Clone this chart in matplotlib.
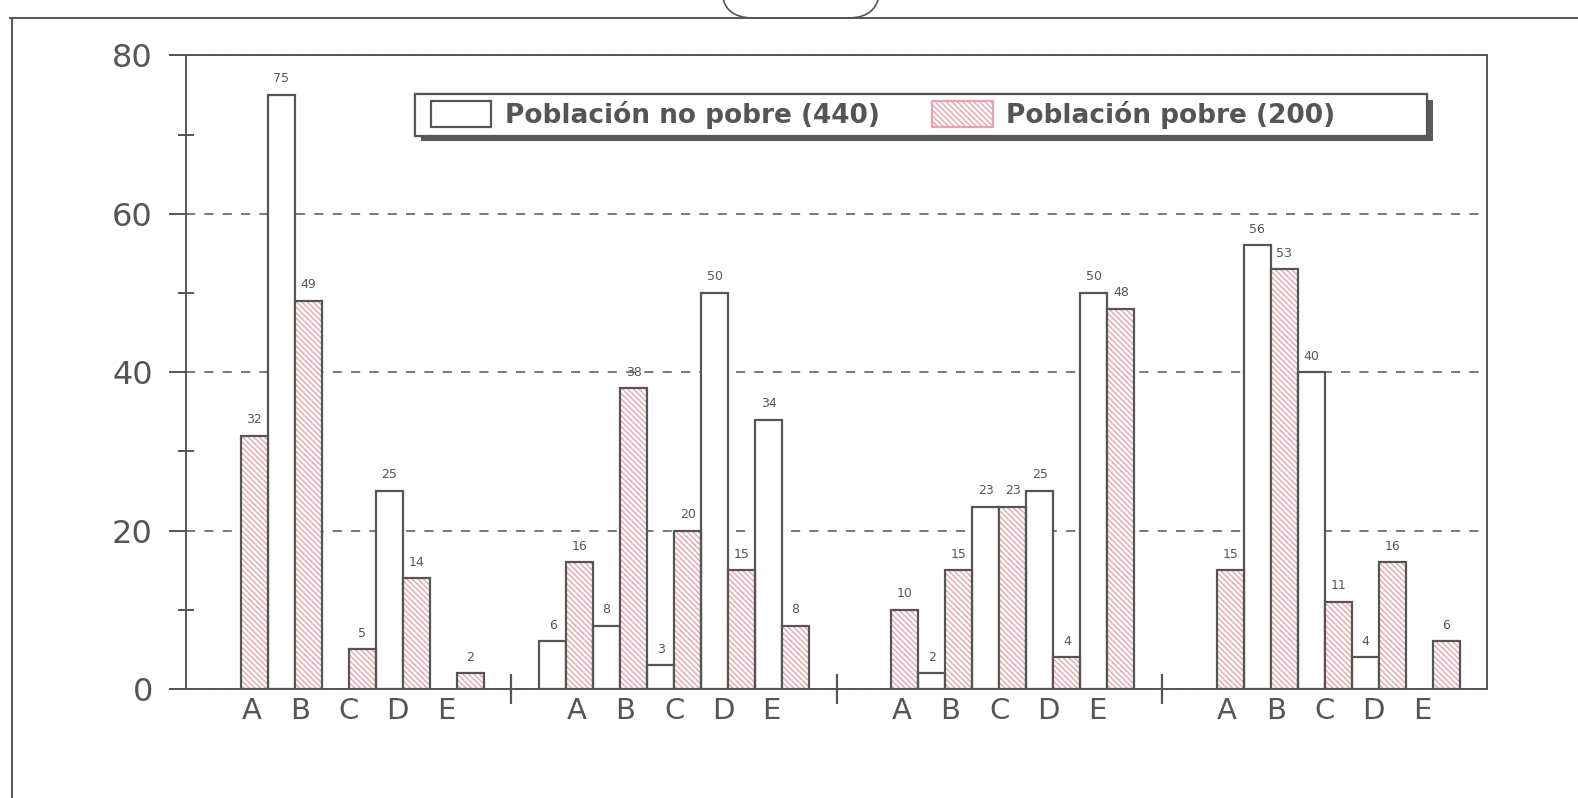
import numpy as np
import matplotlib
matplotlib.use('Agg')
import matplotlib.pyplot as plt
import matplotlib.patheffects as pe
from matplotlib.lines import Line2D
from matplotlib.patches import FancyBboxPatch, Patch, Rectangle

# datos
categorias = ['A', 'B', 'C', 'D', 'E']
n_grupos = 4
no_pobre = [
    [0, 75, 0, 25, 0],
    [6, 8, 3, 50, 34],
    [0, 2, 23, 25, 50],
    [0, 56, 40, 4, 0],
]
pobre = [
    [32, 49, 5, 14, 2],
    [16, 38, 20, 15, 8],
    [10, 15, 23, 4, 48],
    [15, 53, 11, 16, 6],
]
etiqueta_no_pobre = 'Población no pobre (440)'
etiqueta_pobre = 'Población pobre (200)'
y_ticks = [0, 20, 40, 60, 80]

gris = '#555555'
rosa = '#e9a3ad'
rayado = '\\\\\\\\\\\\'

plt.rcParams['hatch.linewidth'] = 1.0

fig = plt.figure(figsize=(15.78, 7.98), dpi=100)
ax = fig.add_axes([0.118, 0.1366, 0.8245, 0.794])

w = 0.083  # ancho de barra (unidades de grupo)
paso_etiqueta = 0.15

pos_letras = []
for g in range(n_grupos):
    centro = g + 0.5
    for k in range(5):
        x_blanca = centro + (2 * k - 4.5) * w
        x_rosa = centro + (2 * k + 1 - 4.5) * w
        vb = no_pobre[g][k]
        vr = pobre[g][k]
        if vb > 0:
            ax.bar(x_blanca, vb, width=w, color='white', edgecolor=gris,
                   linewidth=1.6, zorder=3)
            ax.text(x_blanca, vb + 1.2, str(vb), ha='center', va='bottom',
                    fontsize=9, color=gris, zorder=5)
        if vr > 0:
            # relleno rayado rosa y luego el contorno gris
            ax.bar(x_rosa, vr, width=w, color='white', edgecolor=rosa,
                   hatch=rayado, linewidth=0, zorder=3)
            ax.bar(x_rosa, vr, width=w, fill=False, edgecolor=gris,
                   linewidth=1.6, zorder=4)
            ax.text(x_rosa, vr + 1.2, str(vr), ha='center', va='bottom',
                    fontsize=9, color=gris, zorder=5)
        pos_letras.append(centro + (k - 2) * paso_etiqueta)

ax.set_xlim(0, n_grupos)
ax.set_ylim(0, 80)

# eje x: separadores de grupo y letras
ax.set_xticks([1, 2, 3])
ax.set_xticklabels([])
ax.tick_params(axis='x', which='major', direction='inout', length=22,
               width=1.6, color=gris)
ax.set_xticks(pos_letras, minor=True)
ax.set_xticklabels(categorias * n_grupos, minor=True)
ax.tick_params(axis='x', which='minor', length=0, pad=6, labelsize=21,
               labelcolor=gris)

# eje y
ax.set_yticks(y_ticks)
ax.set_yticks([10, 30, 50, 70], minor=True)
ax.tick_params(axis='y', which='major', direction='out', length=12,
               width=1.4, color=gris, labelsize=23, labelcolor=gris, pad=12)
ax.tick_params(axis='y', which='minor', direction='inout', length=11,
               width=1.4, color=gris)

ax.yaxis.grid(True, which='major', linestyle=(0, (6, 6)), color=gris,
              linewidth=1.1, zorder=0)
ax.set_axisbelow(True)

for s in ax.spines.values():
    s.set_color(gris)
    s.set_linewidth(1.4)

# prolongación de las líneas superior e inferior hacia la izquierda
for yy in (0, 1):
    ax.add_line(Line2D([-0.012, 0], [yy, yy], transform=ax.transAxes,
                       color=gris, linewidth=1.4, clip_on=False))

# cuadro de la leyenda con sombra
caja = Rectangle((0.176, 0.873), 0.778, 0.066, transform=ax.transAxes,
                 facecolor='white', edgecolor=gris, linewidth=1.6, zorder=9)
caja.set_path_effects([pe.withSimplePatchShadow(offset=(4, -4),
                                                shadow_rgbFace='#5a5a5a',
                                                alpha=1.0),
                       pe.Normal()])
ax.add_patch(caja)

handles = [
    Patch(facecolor='white', edgecolor=gris, linewidth=1.6),
    Patch(facecolor='white', edgecolor=rosa, hatch=rayado, linewidth=1.6),
]
leg = ax.legend(handles, [etiqueta_no_pobre, etiqueta_pobre], ncol=2,
                loc='center left', bbox_to_anchor=(0.188, 0.906),
                frameon=False, fontsize=19,
                handlelength=2.3, handleheight=1.1, handletextpad=0.5,
                columnspacing=2.0, borderpad=0, borderaxespad=0)
for t in leg.get_texts():
    t.set_color(gris)
    t.set_fontweight('bold')
leg.set_zorder(10)

# marco exterior de la página
W, H = 1578, 798
fig.add_artist(Line2D([10 / W, 1], [1 - 18 / H, 1 - 18 / H],
                      transform=fig.transFigure, color=gris, linewidth=1.4))
fig.add_artist(Line2D([12 / W, 12 / W], [0, 1 - 18 / H],
                      transform=fig.transFigure, color=gris, linewidth=1.4))
fig.add_artist(FancyBboxPatch((722 / W, 1 - 18 / H), 158 / W, 60 / H,
                              boxstyle='round,pad=0,rounding_size=0.02',
                              transform=fig.transFigure, facecolor='none',
                              edgecolor=gris, linewidth=1.2,
                              mutation_aspect=W / H))

fig.savefig('out.png', dpi=100)
